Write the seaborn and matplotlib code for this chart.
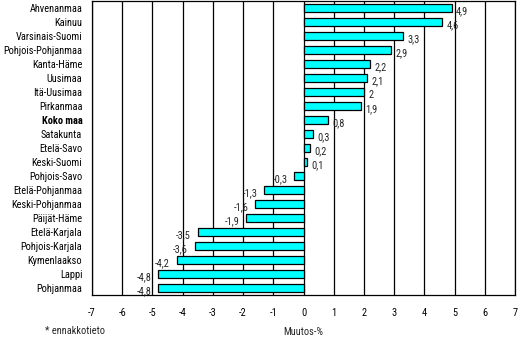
import matplotlib
matplotlib.use("Agg")
import matplotlib.pyplot as plt
import seaborn as sns
import pandas as pd

regions = ["Ahvenanmaa", "Kainuu", "Varsinais-Suomi", "Pohjois-Pohjanmaa",
           "Kanta-Häme", "Uusimaa", "Itä-Uusimaa", "Pirkanmaa", "Koko maa",
           "Satakunta", "Etelä-Savo", "Keski-Suomi", "Pohjois-Savo",
           "Etelä-Pohjanmaa", "Keski-Pohjanmaa", "Päijät-Häme", "Etelä-Karjala",
           "Pohjois-Karjala", "Kymenlaakso", "Lappi", "Pohjanmaa"]
change = [4.9, 4.6, 3.3, 2.9, 2.2, 2.1, 2.0, 1.9, 0.8, 0.3, 0.2, 0.1, -0.3,
          -1.3, -1.6, -1.9, -3.5, -3.6, -4.2, -4.8, -4.8]
x_ticks = list(range(-7, 8))

sns.set_theme(style="white")
plt.rcParams["font.family"] = ["Roboto Condensed", "Liberation Sans", "DejaVu Sans"]
FS = 7.5

df = pd.DataFrame({"alue": regions, "muutos": change})

fig = plt.figure(figsize=(5.19, 3.39), dpi=100)
ax = fig.add_axes([92 / 519, 1 - 295 / 339, (515 - 92) / 519, (295 - 1) / 339])

# vertical grid at every whole percent
for t in x_ticks:
    ax.axvline(t, color="black", lw=0.9, zorder=0)

sns.barplot(data=df, x="muutos", y="alue", orient="h", color="#00FFFF",
            edgecolor="black", linewidth=0.9, width=0.58, saturation=1,
            ax=ax, zorder=2)

# value labels, decimal comma
for i, v in enumerate(change):
    txt = f"{v:g}".replace(".", ",")
    if v >= 0:
        ax.text(v + 0.15, i + 0.2, txt, ha="left", va="center", fontsize=FS, zorder=3)
    else:
        ax.text(v - 0.22, i + 0.2, txt, ha="right", va="center", fontsize=FS, zorder=3)

ax.set_xlim(-7, 7)
ax.set_xticks(x_ticks)
ax.set_xticklabels([str(t) for t in x_ticks])
ax.set_ylim(len(regions) - 0.5, -0.5)
ax.set_xlabel("Muutos-%", fontsize=FS, labelpad=7)
ax.set_ylabel("")
ax.tick_params(axis="x", length=0, labelsize=FS, colors="black", pad=9)
ax.tick_params(axis="y", length=0, labelsize=FS, colors="black", pad=7)
for lab in ax.get_yticklabels():
    if lab.get_text() == "Koko maa":
        lab.set_fontweight("bold")
for s in ax.spines.values():
    s.set_color("black")
    s.set_linewidth(0.9)

fig.text(45 / 519, 1 - 331 / 339, "* ennakkotieto", fontsize=FS, va="center", ha="left")

fig.savefig("out.png", dpi=100)
